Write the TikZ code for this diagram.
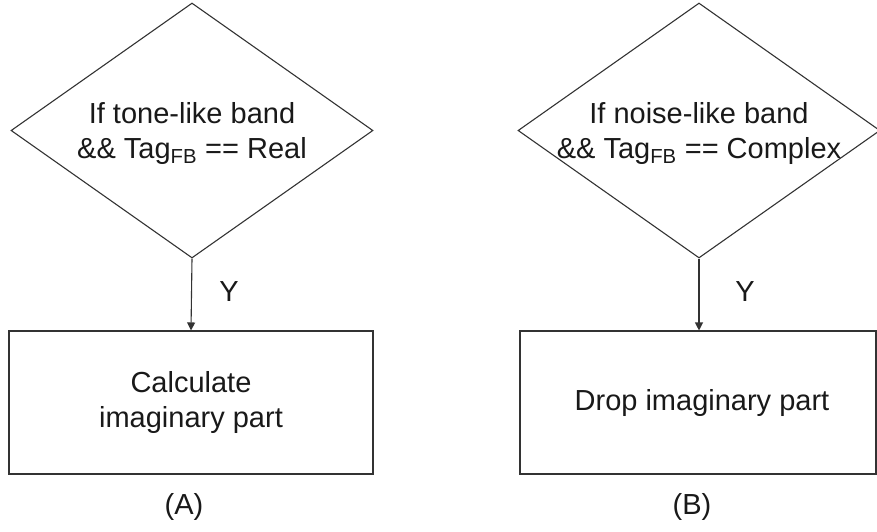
\documentclass[tikz,border=0pt]{standalone}
\usepackage{fontspec}
\setmainfont{Liberation Sans}
\usetikzlibrary{shapes.geometric,arrows.meta}
\begin{document}
\begin{tikzpicture}[x=1pt,y=-1pt,
  line/.style={draw=black!80,line width=1.1pt},
  decision/.style={line,shape=diamond,inner sep=0pt,minimum width=362pt,minimum height=255pt},
  procbox/.style={line,rectangle,inner sep=0pt,minimum width=364pt,minimum height=143pt},
  lbl/.style={font=\fontsize{29}{35}\selectfont,text=black!90,inner sep=0pt},
  flow/.style={line,-{Triangle[length=8pt,width=8pt]}}]
\useasboundingbox (0,0) rectangle (877,531);
% (A)
\node[decision] (dA) at (192,130.5) {};
\node[lbl,align=center] (tA) at (192,133) {If tone-like band\\\&\& Tag\textsubscript{FB} == Real};
\node[procbox] (bA) at (191,402.5) {};
\node[lbl,align=center] (cA) at (191,402.5) {Calculate\\imaginary part};
\draw[flow] (dA.south) -- (bA.north);
\node[lbl] (yA) at (229,292) {Y};
\node[lbl] (capA) at (184,507) {(A)};
% (B)
\node[decision] (dB) at (699,130.5) {};
\node[lbl,align=center] (tB) at (699,133) {If noise-like band\\\&\& Tag\textsubscript{FB} == Complex};
\node[procbox,minimum width=356pt] (bB) at (698,402.5) {};
\node[lbl] (cB) at (702,402.5) {Drop imaginary part};
\draw[flow] (dB.south) -- (bB.north -| dB.south);
\node[lbl] (yB) at (745,292) {Y};
\node[lbl] (capB) at (692,507) {(B)};
\end{tikzpicture}
\end{document}
